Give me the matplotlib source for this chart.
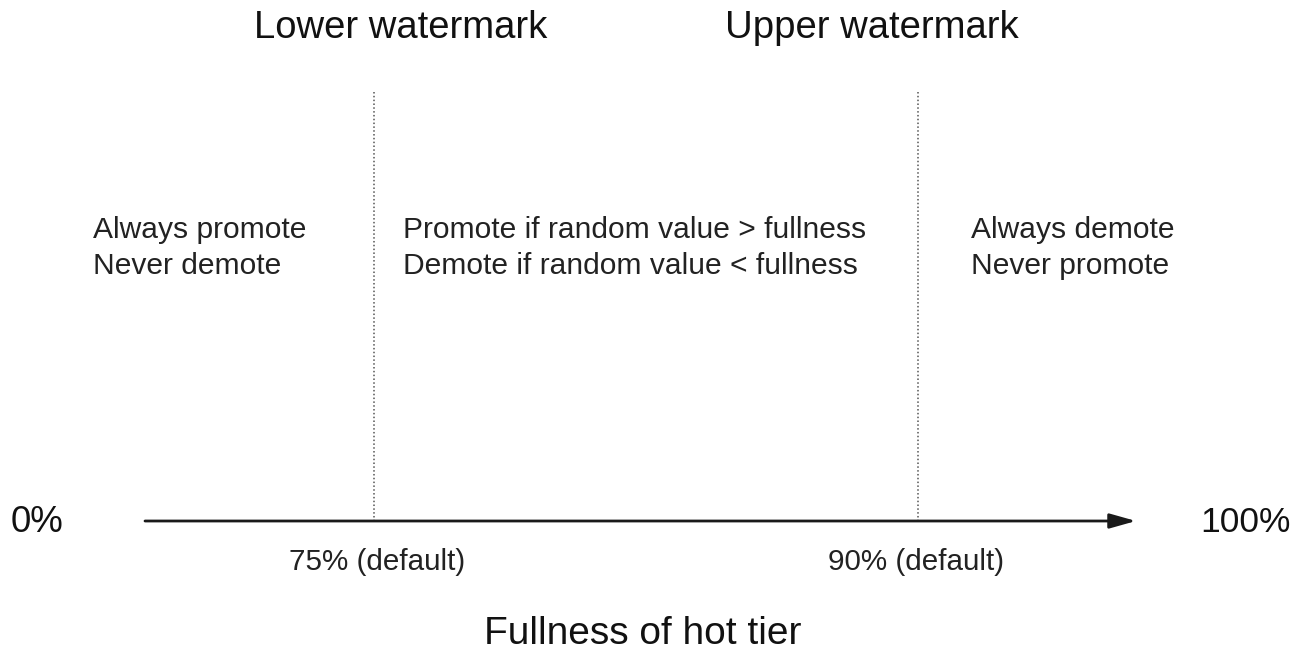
import matplotlib
matplotlib.use('Agg')
import matplotlib.pyplot as plt

plt.rcParams['font.family'] = ['Liberation Sans', 'DejaVu Sans']

# --- DIAGRAM CONTENT ---
axis_ends = ['0%', '100%']
watermark_names = ['Lower watermark', 'Upper watermark']
watermark_labels = ['75% (default)', '90% (default)']
# schematic positions along the arrow (not to scale, as in the original)
watermark_pos = [374, 918]
name_centers = [401, 872]
label_centers = [377, 916]
region_text = [
    'Always promote\nNever demote',
    'Promote if random value > fullness\nDemote if random value < fullness',
    'Always demote\nNever promote',
]
region_left = [93, 403, 971]
axis_title = 'Fullness of hot tier'

# --- FIGURE (pixel-like coordinates) ---
fig = plt.figure(figsize=(13.04, 6.51), dpi=100)
ax = fig.add_axes([0, 0, 1, 1])
ax.set_xlim(0, 1304)
ax.set_ylim(651, 0)
ax.axis('off')

AXIS_Y = 521
ARROW_X0, ARROW_X1 = 145, 1136

# main arrow
ax.annotate('', xy=(ARROW_X1, AXIS_Y), xytext=(ARROW_X0, AXIS_Y),
            arrowprops=dict(arrowstyle='-|>,head_length=1.6,head_width=0.45',
                            color='#1a1a1a', lw=2.0, shrinkA=0, shrinkB=0))

# watermark dotted lines + labels
for x, cx, lx, name, lab in zip(watermark_pos, name_centers, label_centers,
                                watermark_names, watermark_labels):
    ax.plot([x, x], [92, AXIS_Y], color='#555555', lw=1.1, ls=(0, (1, 1.5)))
    ax.text(cx, 28, name, fontsize=27.5, ha='center', va='center', color='#111111')
    ax.text(lx, 562, lab, fontsize=21.3, ha='center', va='center', color='#222222')

# region descriptions
for x, t in zip(region_left, region_text):
    ax.text(x, 248, t, fontsize=21.6, ha='left', va='center',
            color='#222222', linespacing=1.38)

# axis end labels
ax.text(11, 522, axis_ends[0], fontsize=26.5, ha='left', va='center', color='#111111')
ax.text(1200, 522, axis_ends[1], fontsize=25.5, ha='left', va='center', color='#111111')

# title below
ax.text(643, 634, axis_title, fontsize=28, ha='center', va='center', color='#111111')

fig.savefig('out.png', dpi=100, facecolor='white')
